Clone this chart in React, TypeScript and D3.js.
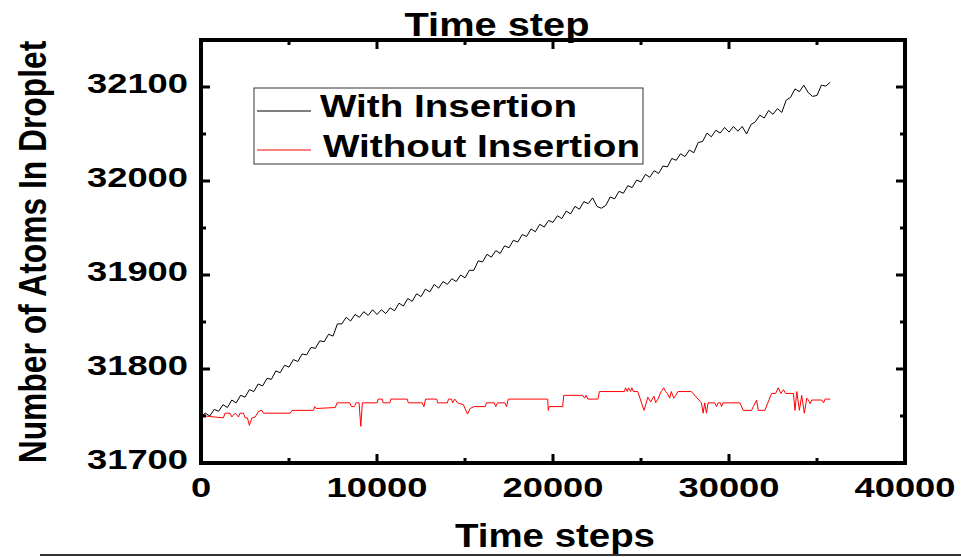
import React from "react";
import * as d3 from "d3";

const xTicks = [0, 10000, 20000, 30000, 40000];
const yTicks = [31700, 31800, 31900, 32000, 32100];
const seriesNames = ["With Insertion", "Without Insertion"];
const seriesColors = ["#000000", "#ff0000"];

// With Insertion: sampled every 250 time steps
const withStepInterval = 250;
const withValues = [
  31750, 31753, 31750, 31757, 31755, 31762, 31759, 31767, 31764, 31772,
  31770, 31778, 31776, 31784, 31782, 31790, 31789, 31798, 31796, 31804,
  31802, 31810, 31808, 31816, 31815, 31823, 31822, 31830, 31829, 31837,
  31835, 31848, 31848, 31855, 31851, 31858, 31855, 31861, 31857, 31863,
  31858, 31863, 31859, 31865, 31862, 31870, 31867, 31875, 31872, 31880,
  31877, 31885, 31882, 31890, 31886, 31893, 31890, 31896, 31893, 31900,
  31897, 31905, 31905, 31915, 31914, 31922, 31919, 31926, 31923, 31931,
  31929, 31937, 31935, 31943, 31941, 31949, 31946, 31954, 31951, 31958,
  31956, 31963, 31960, 31968, 31965, 31973, 31970, 31978, 31976, 31982,
  31973, 31971, 31974, 31983, 31981, 31989, 31987, 31995, 31993, 32001,
  31999, 32007, 32004, 32011, 32008, 32016, 32015, 32024, 32022, 32029,
  32026, 32033, 32030, 32041, 32042, 32051, 32047, 32054, 32051, 32057,
  32052, 32058, 32053, 32058, 32050, 32060, 32063, 32070, 32067, 32075,
  32071, 32077, 32073, 32086, 32089, 32098, 32095, 32102, 32094, 32090,
  32091, 32102, 32101, 32105,
];

// Without Insertion: (step, value) breakpoints
const withoutSteps = [
  0, 230, 1270, 1370, 1650, 1750, 1940, 2130, 2220, 2410, 2510, 2640, 2750, 2890,
  3080, 3270, 3460, 3550, 5070, 5170, 6400, 6450, 6550, 7630, 7730, 8450, 8550,
  8720, 8810, 8980, 9080, 9170, 10010, 10070, 10300, 10350, 10730, 10790, 11720,
  11780, 12570, 12670, 12760, 13390, 13450, 14000, 14060, 14230, 14300, 14420,
  14570, 14910, 15140, 15290, 15520, 16150, 16220, 16660, 16750, 16850, 17270,
  17360, 17460, 17610, 19700, 19730, 19790, 20550, 20610, 21690, 21790, 21880,
  21980, 22550, 22640, 24060, 24120, 24220, 24290, 24410, 24480, 24560, 24820,
  25010, 25170, 25390, 25550, 25640, 25740, 25830, 25960, 26150, 26290, 26400,
  26500, 26630, 26720, 26860, 26970, 27100, 27860, 28240, 28430, 28530, 28620,
  28720, 28810, 29190, 29290, 29380, 29520, 29570, 29670, 30620, 30810, 31280,
  31380, 31570, 31660, 32040, 32420, 32650, 32800, 32950, 33090, 33220, 33410,
  33660, 33750, 33850, 34000, 34130, 34280, 34420, 34510, 34610, 34700, 35270,
  35370, 35460, 35750,
];
const withoutValues = [
  31750, 31750, 31748, 31753, 31753, 31749, 31753, 31749, 31753, 31753, 31748, 31748, 31740, 31748,
  31749, 31755, 31756, 31753, 31753, 31756, 31756, 31760, 31758, 31759, 31764, 31764, 31760,
  31760, 31764, 31764, 31739, 31764, 31764, 31768, 31768, 31764, 31764, 31768, 31768,
  31764, 31764, 31760, 31768, 31768, 31764, 31764, 31768, 31768, 31764, 31768,
  31764, 31762, 31752, 31758, 31760, 31760, 31764, 31764, 31760, 31764, 31764,
  31760, 31768, 31768, 31768, 31756, 31760, 31760, 31772, 31772, 31769, 31772,
  31768, 31768, 31776, 31776, 31780, 31776, 31780, 31776, 31780, 31776, 31776,
  31765, 31756, 31770, 31765, 31768, 31771, 31764, 31768, 31776, 31780, 31776,
  31774, 31769, 31776, 31769, 31772, 31776, 31776, 31768, 31764, 31753, 31764,
  31753, 31764, 31764, 31760, 31764, 31764, 31760, 31764, 31764, 31756, 31756,
  31760, 31767, 31756, 31756, 31774, 31774, 31780, 31774, 31778, 31774, 31774,
  31774, 31756, 31776, 31756, 31772, 31753, 31769, 31767, 31763, 31767, 31767,
  31764, 31768, 31768,
];

const W = 961;
const H = 557;
const left = 201, right = 905, top = 40, bottom = 463;

export default function App() {
  const x = d3.scaleLinear().domain([0, 40000]).range([left, right]);
  const y = d3.scaleLinear().domain([31700, 32150]).range([bottom, top]);

  const withData = withValues.map((v, i) => [i * withStepInterval, v] as [number, number]);
  const withoutData = withoutSteps.map((s, i) => [s, withoutValues[i]] as [number, number]);

  const line = d3
    .line<[number, number]>()
    .x((d) => x(d[0]))
    .y((d) => y(d[1]));

  const xMinor = d3.range(0, 40001, 5000);
  const yMinor = d3.range(31700, 32151, 50);
  const font = "'Liberation Sans', Arial, sans-serif";

  return (
    <svg
      width={W}
      height={H}
      style={{ position: "fixed", left: 0, top: 0, background: "#fff" }}
      fontFamily={font}
      fontWeight="bold"
    >
      <rect x={0} y={0} width={W} height={H} fill="#fff" />
      {/* data */}
      <path d={line(withData) || ""} fill="none" stroke={seriesColors[0]} strokeWidth={1} />
      <path d={line(withoutData) || ""} fill="none" stroke={seriesColors[1]} strokeWidth={1} />

      {/* ticks */}
      {xMinor.map((t) => {
        const major = t % 10000 === 0;
        const len = major ? 9 : 5;
        return (
          <g key={"xt" + t}>
            <line x1={x(t)} x2={x(t)} y1={bottom} y2={bottom - len} stroke="#000" strokeWidth={3} />
            <line x1={x(t)} x2={x(t)} y1={top} y2={top + len} stroke="#000" strokeWidth={3} />
          </g>
        );
      })}
      {yMinor.map((t) => {
        const major = t % 100 === 0;
        const len = major ? 9 : 5;
        return (
          <g key={"yt" + t}>
            <line x1={left} x2={left + len} y1={y(t)} y2={y(t)} stroke="#000" strokeWidth={3} />
            <line x1={right} x2={right - len} y1={y(t)} y2={y(t)} stroke="#000" strokeWidth={3} />
          </g>
        );
      })}

      {/* frame */}
      <rect x={left} y={top} width={right - left} height={bottom - top} fill="none" stroke="#000" strokeWidth={4} />

      {/* tick labels */}
      {xTicks.map((t) => {
        const label = String(t);
        return (
          <text
            key={"xl" + t}
            x={x(t)}
            y={497}
            textAnchor="middle"
            fontSize={28}
            textLength={label.length * 20.2}
            lengthAdjust="spacingAndGlyphs"
          >
            {label}
          </text>
        );
      })}
      {yTicks.map((t) => (
        <text
          key={"yl" + t}
          x={188}
          y={y(t) + 6}
          textAnchor="end"
          fontSize={28}
          textLength={101}
          lengthAdjust="spacingAndGlyphs"
        >
          {String(t)}
        </text>
      ))}

      {/* axis titles */}
      <text x={497} y={36} textAnchor="middle" fontSize={34} textLength={185} lengthAdjust="spacingAndGlyphs">
        Time step
      </text>
      <text x={555} y={547} textAnchor="middle" fontSize={34} textLength={200} lengthAdjust="spacingAndGlyphs">
        Time steps
      </text>
      <text
        transform={`translate(46, 252) rotate(-90) scale(0.815, 1)`}
        textAnchor="middle"
        fontSize={39}
      >
        Number of Atoms In Droplet
      </text>

      {/* legend */}
      <rect x={254} y={88} width={389} height={76} fill="#fff" stroke="#333" strokeWidth={1} />
      <line x1={257} x2={311} y1={111} y2={111} stroke={seriesColors[0]} strokeWidth={1} />
      <line x1={257} x2={311} y1={150} y2={150} stroke={seriesColors[1]} strokeWidth={1} />
      <text x={320} y={117} fontSize={31} textLength={257} lengthAdjust="spacingAndGlyphs">
        {seriesNames[0]}
      </text>
      <text x={323} y={157} fontSize={31} textLength={317} lengthAdjust="spacingAndGlyphs">
        {seriesNames[1]}
      </text>

      {/* bottom rule */}
      <line x1={40} x2={W} y1={555} y2={555} stroke="#333" strokeWidth={2} />
    </svg>
  );
}
